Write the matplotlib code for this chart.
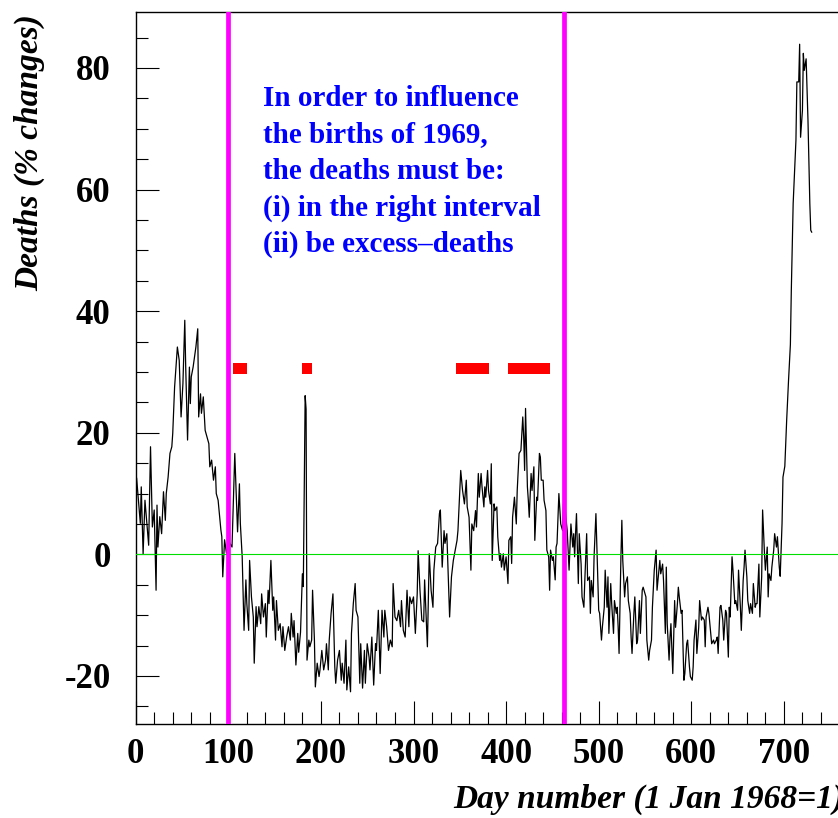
import numpy as np
import matplotlib
matplotlib.use("Agg")
import matplotlib.pyplot as plt
from matplotlib.ticker import MultipleLocator

# Daily deaths, % change w.r.t. reference
days = [
    1, 5, 6, 8, 10, 13, 14, 16, 18, 20, 22, 23, 24, 26, 28, 30, 32, 33, 35, 37,
    39, 40, 42, 45, 47, 49, 51, 53, 54, 56, 58, 59, 60, 62, 65, 67, 68, 70, 71, 73,
    75, 79, 80, 82, 84, 86, 87, 89, 91, 92, 93, 94, 96, 98, 101, 104, 107, 110, 112, 113,
    115, 117, 119, 120, 122, 123, 125, 127, 128, 130, 131, 133, 135, 136, 138, 140, 141, 143, 144, 146,
    148, 149, 151, 152, 154, 156, 158, 159, 161, 163, 165, 167, 168, 170, 171, 173, 175, 176, 178, 180,
    181, 183, 184, 185, 187, 188, 190, 191, 193, 194, 196, 198, 199, 201, 203, 205, 206, 208, 209, 211,
    213, 215, 216, 218, 220, 222, 223, 225, 227, 228, 230, 232, 233, 235, 237, 238, 240, 242, 243, 245,
    247, 248, 250, 252, 253, 255, 257, 259, 260, 262, 264, 266, 268, 269, 271, 273, 275, 277, 278, 280,
    282, 284, 286, 287, 289, 291, 293, 295, 296, 298, 300, 302, 304, 305, 307, 309, 311, 312, 315, 317,
    319, 321, 322, 324, 326, 328, 329, 331, 333, 334, 336, 338, 339, 341, 343, 345, 347, 348, 351, 353,
    355, 357, 358, 360, 362, 363, 365, 367, 368, 370, 371, 373, 374, 376, 377, 378, 380, 381, 383, 384,
    385, 387, 388, 390, 391, 393, 394, 395, 397, 398, 400, 402, 403, 405, 406, 407, 409, 411, 412, 414,
    416, 418, 419, 420, 421, 423, 424, 425, 427, 428, 430, 431, 433, 434, 436, 437, 438, 440, 441, 443,
    444, 446, 447, 448, 450, 451, 453, 454, 455, 457, 459, 461, 462, 464, 466, 468, 470, 472, 473, 474,
    475, 476, 478, 479, 481, 482, 484, 485, 487, 488, 490, 491, 492, 494, 495, 497, 498, 500, 501, 503,
    504, 506, 507, 509, 510, 511, 513, 514, 516, 517, 519, 520, 521, 522, 524, 525, 526, 528, 529, 531,
    532, 534, 535, 536, 538, 539, 541, 542, 544, 545, 547, 548, 550, 551, 552, 554, 555, 557, 558, 560,
    562, 563, 564, 566, 567, 569, 570, 572, 573, 574, 576, 577, 578, 580, 582, 583, 585, 586, 587, 589,
    590, 592, 593, 595, 596, 598, 599, 601, 602, 603, 605, 606, 608, 609, 611, 612, 614, 615, 616, 618,
    619, 621, 622, 624, 625, 627, 628, 629, 631, 632, 634, 635, 637, 638, 640, 641, 642, 644, 645, 647,
    648, 650, 651, 653, 654, 656, 657, 658, 660, 661, 663, 664, 666, 667, 669, 670, 671, 673, 674, 676,
    677, 679, 680, 682, 683, 684, 686, 687, 689, 690, 692, 693, 695, 696, 698, 699, 701, 703, 705, 707,
    708, 710, 713, 714, 716, 717, 718, 720, 721, 722, 724, 726, 728, 729, 730,
]
deaths = [
    12.5, 5.1, 11.1, 0.1, 8.9, 3.4, 1.5, 17.7, 4.5, 7.3, -5.9, 8.1, 1.2, 6.2, 3.4, 10.3, 5.6, 10.0, 12.7, 16.6,
    17.7, 19.9, 27.5, 34.1, 31.9, 22.6, 28.1, 38.5, 30.8, 18.8, 30.8, 24.8, 29.2, 30.8, 34.1, 37.1, 22.6, 26.4, 23.2, 25.9,
    20.4, 18.2, 14.4, 15.5, 12.2, 14.4, 10.0, 8.9, 5.6, 4.0, 2.9, -3.7, 2.4, 0.2, 2.0, 1.2, 16.6, 3.7, 11.6, 5.1,
    -0.4, -12.5, -4.2, -8.1, -12.5, -1.0, -7.0, -10.3, -17.9, -8.6, -11.9, -8.6, -11.4, -6.5, -10.3, -8.1, -13.6, -5.9, -8.1, -1.0,
    -9.2, -7.0, -14.1, -7.6, -12.5, -11.4, -15.2, -11.9, -15.8, -13.6, -11.9, -14.1, -9.7, -13.6, -10.9, -18.2, -13.0, -16.1, -12.8, -3.2,
    -5.3, 26.1, 23.9, -17.4, -14.1, -15.2, -14.1, -5.9, -14.1, -21.8, -17.9, -20.1, -19.0, -15.8, -19.0, -17.4, -14.7, -19.0, -14.1, -9.7,
    -6.5, -18.5, -21.2, -17.4, -15.8, -20.7, -17.9, -21.2, -14.1, -22.3, -18.5, -22.6, -13.0, -8.1, -4.8, -9.2, -10.3, -21.2, -14.7, -22.0,
    -15.8, -21.2, -14.7, -16.9, -19.0, -13.6, -21.5, -14.7, -15.8, -9.2, -19.6, -9.2, -13.6, -9.2, -11.9, -15.8, -14.1, -15.2, -4.8, -10.3,
    -10.9, -9.2, -11.9, -7.6, -12.5, -13.6, -5.9, -11.9, -7.0, -8.1, -7.0, -13.0, -6.5, 0.6, -5.9, -10.8, -11.1, -4.2, -15.2, 0.1,
    -5.9, -8.7, -2.6, 1.2, 1.8, 6.7, 7.3, -2.1, 3.9, 1.8, 3.4, -5.9, -10.3, -3.7, -1.0, 0.7, 2.3, 3.9, 13.8, 10.5,
    8.3, 12.2, 7.8, 6.1, -2.6, 5.0, 3.9, 7.2, 4.5, 13.3, 9.4, 13.3, 11.1, 7.8, 11.1, 9.4, 13.8, 10.5, 8.3, 14.9,
    -1.0, 8.3, 7.2, 7.8, 2.9, -1.0, 0.1, -2.1, 0.1, -2.6, -0.4, -4.8, 2.3, 2.9, -1.5, 6.1, 9.4, 5.0, 10.5, 16.6,
    17.1, 22.6, 19.3, 13.8, 24.0, 11.1, 8.9, 6.1, 13.3, 10.5, 14.4, 2.3, 9.4, 8.9, 16.6, 16.0, 12.2, 12.2, 8.9, 7.2,
    0.7, -0.4, -5.9, 0.7, -1.0, -0.4, -4.2, 1.2, 1.8, 10.0, 5.0, 3.9, 8.3, 7.0, 3.9, -2.6, 5.0, 1.2, 3.4, -0.4,
    3.4, 6.7, -4.8, 3.4, -1.6, -7.0, -8.7, -4.3, 3.4, -4.3, -3.7, -9.7, -4.3, -7.0, -0.4, 6.7, 1.2, -9.2, -9.7, -14.1,
    -11.9, -8.7, -2.6, -8.7, -3.7, -13.0, -4.8, -8.1, -13.0, -7.6, -9.7, -8.7, -11.9, -16.3, -0.4, 5.6, -1.0, -7.0, -4.8, -3.7,
    -7.6, -9.7, -13.6, -16.3, -9.7, -7.0, -14.7, -14.1, -7.6, -13.0, -5.9, -5.4, -6.5, -7.0, -14.1, -17.4, -15.8, -14.1, -8.7, -2.6,
    0.7, -5.9, -4.3, -1.0, -3.2, -1.6, -4.3, -13.0, -2.1, -11.4, -17.4, -13.6, -11.4, -19.6, -7.6, -12.0, -8.1, -5.4, -7.0, -9.7,
    -9.2, -20.7, -19.6, -14.7, -14.1, -18.5, -20.1, -20.7, -18.5, -14.1, -10.8, -16.3, -12.0, -7.6, -10.8, -10.3, -10.8, -15.2, -10.3, -8.7,
    -9.7, -13.0, -14.7, -14.1, -14.7, -14.1, -13.6, -16.3, -8.7, -8.4, -10.8, -14.1, -9.2, -9.7, -16.9, -8.7, -10.3, -0.4, -2.6, -8.1,
    -7.6, -9.2, -2.6, -8.7, -12.5, -4.3, -2.1, 0.7, -3.7, -7.6, -9.7, -8.1, -9.7, -4.8, -8.7, -8.1, -8.1, -1.6, -10.3, -3.7,
    7.3, 0.2, -2.6, 1.2, -7.0, -3.2, -4.3, -2.1, 0.7, 3.4, 1.2, 2.9, -2.1, -3.6, 5.1, 12.7, 14.5, 22.1, 28.6, 34.5,
    43.4, 57.7, 68.1, 77.7, 77.7, 83.9, 68.6, 73.0, 82.4, 79.6, 81.5, 71.4, 57.7, 53.3, 53.0,
]

# interval boundaries (magenta) and excess-death periods (red bars)
interval_days = [100, 463]
excess_start = [105, 180, 346, 402]
excess_end = [120, 190, 381, 447]
excess_level = 30.6

note = ("In order to influence\n"
        "the births of 1969,\n"
        "the deaths must be:\n"
        "(i) in the right interval\n"
        "(ii) be excess\u2013deaths")

plt.rcParams['font.family'] = 'Liberation Serif'
plt.rcParams['axes.unicode_minus'] = False

W, H = 838, 818
fig = plt.figure(figsize=(W / 100, H / 100), dpi=100)

xmax = 765
px_per_day = 0.926
left = 135.7 / W
bottom = (H - 724) / H
top = (H - 12) / H
ax = fig.add_axes([left, bottom, xmax * px_per_day / W, top - bottom])

ax.axhline(0, color='#00dd00', lw=0.8, zorder=3)
ax.plot(days, deaths, color='black', lw=0.9, zorder=2)
for d in interval_days:
    ax.axvline(d, color='#ff00ff', lw=3.4, zorder=4)
bars = [(s, e - s) for s, e in zip(excess_start, excess_end)]
ax.broken_barh(bars, (excess_level - 0.9, 1.8), facecolors='#ff0000', zorder=4)

ax.text(137.5, 77.2, note, color='#0000ff', fontsize=21, fontweight='bold',
        ha='left', va='top', linespacing=1.45)

ax.set_xlim(0, xmax)
ax.set_ylim(-27.9, 89.2)
ax.xaxis.set_major_locator(MultipleLocator(100))
ax.xaxis.set_minor_locator(MultipleLocator(20))
ax.yaxis.set_major_locator(MultipleLocator(20))
ax.yaxis.set_minor_locator(MultipleLocator(5))
ax.tick_params(which='both', direction='in', top=False, right=False, width=0.8,
               labelsize=25)
ax.tick_params(which='major', length=16.5)
ax.tick_params(which='minor', length=8.5)
ax.tick_params(axis='x', pad=10)
ax.tick_params(axis='y', pad=18)
for lab in ax.get_xticklabels() + ax.get_yticklabels():
    lab.set_fontweight('bold')
for sp in ax.spines.values():
    sp.set_linewidth(1.0)

ax.set_xlabel('Day number (1 Jan 1968=1)', fontsize=24, fontweight='bold',
              fontstyle='italic', loc='right')
ax.xaxis.set_label_coords(1.0, -0.084)
fig.text(30 / W, 1 - 14 / H, 'Deaths (% changes)', fontsize=24, fontweight='bold',
         fontstyle='italic', rotation=90, ha='center', va='top')

fig.savefig('out.png', dpi=100)
